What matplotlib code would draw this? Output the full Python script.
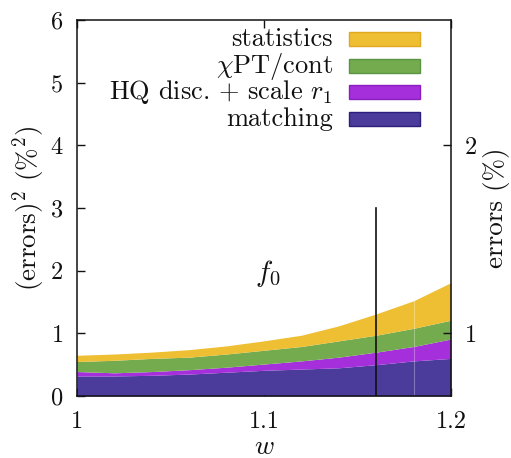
import matplotlib
matplotlib.use("Agg")
import matplotlib.pyplot as plt
from matplotlib.patches import Rectangle

plt.rcParams["font.family"] = ["cmr10", "DejaVu Serif"]
plt.rcParams["mathtext.fontset"] = "cm"
plt.rcParams["axes.formatter.use_mathtext"] = True

# Error budget of f_0 versus recoil w (squared errors, %^2), stacked bottom to top
w = [1.00, 1.02, 1.04, 1.06, 1.08, 1.10, 1.12, 1.14, 1.16, 1.18, 1.20]
matching = [0.32, 0.32, 0.33, 0.35, 0.38, 0.41, 0.43, 0.45, 0.50, 0.56, 0.60]
hq_scale = [0.07, 0.05, 0.06, 0.07, 0.08, 0.10, 0.13, 0.17, 0.20, 0.23, 0.31]
chipt_cont = [0.16, 0.20, 0.21, 0.20, 0.21, 0.22, 0.23, 0.26, 0.27, 0.29, 0.30]
statistics = [0.10, 0.10, 0.10, 0.12, 0.13, 0.15, 0.18, 0.24, 0.34, 0.44, 0.60]

labels = ["matching", r"HQ disc. + scale $r_1$", r"$\chi$PT/cont", "statistics"]
colors = ["#4b3b9b", "#a52fdb", "#74ab4e", "#eebf33"]
edges = ["#2a1f7a", "#8a1fc0", "#5a9440", "#e0a820"]

x_ticks = [1.0, 1.1, 1.2]
x_tick_labels = ["1", "1.1", "1.2"]
y_ticks = [0, 1, 2, 3, 4, 5, 6]
right_ticks = [1, 4]          # sqrt scale: errors of 1% and 2%
right_tick_labels = ["1", "2"]
w_cut = 1.16                  # vertical marker
w_cut_height = 3.0

INK = "#111111"
TICK_FS = 17.5
LABEL_FS = 19.5
KEY_FS = 19

fig = plt.figure(figsize=(5.11, 4.58), dpi=100)
ax = fig.add_axes([0.1507, 0.1354, 0.7319, 0.8209])

series = [matching, hq_scale, chipt_cont, statistics]
base = [0.0] * len(w)
for vals, col in zip(series, colors):
    top = [b + v for b, v in zip(base, vals)]
    ax.fill_between(w, base, top, color=col, linewidth=0, zorder=2)
    base = top

# faint seam between plotted segments
seam_idx = w.index(1.18)
ax.plot([1.18, 1.18], [0, base[seam_idx]], color="white", lw=0.8, alpha=0.3, zorder=2.2)

ax.plot([w_cut, w_cut], [0, w_cut_height], color=INK, lw=1.2, zorder=3)

ax.set_xlim(1.0, 1.2)
ax.set_ylim(0, 6)
ax.set_xticks(x_ticks)
ax.set_xticklabels(x_tick_labels)
ax.set_yticks(y_ticks)
ax.tick_params(axis="both", direction="in", length=6, width=1.0, labelsize=TICK_FS,
               colors=INK, top=True, right=False)
ax.tick_params(axis="x", pad=11)
ax.tick_params(axis="y", pad=10)
for s in ax.spines.values():
    s.set_linewidth(1.1)
    s.set_color(INK)
    s.set_zorder(4)

ax.set_xlabel("$w$", fontsize=LABEL_FS, color=INK)
ax.xaxis.set_label_coords(0.5, -0.104)
ax.set_ylabel(r"(errors)$^2$ (%$^2$)", fontsize=LABEL_FS, labelpad=2, color=INK)

ax2 = ax.twinx()
ax2.set_ylim(0, 6)
ax2.set_yticks(right_ticks)
ax2.set_yticklabels(right_tick_labels)
ax2.tick_params(axis="y", direction="in", length=6, width=1.0, labelsize=TICK_FS,
                colors=INK, pad=10)
for s in ax2.spines.values():
    s.set_visible(False)
ax2.set_ylabel("errors (%)", fontsize=LABEL_FS, labelpad=4, color=INK)

ax.text(1.102, 1.96, "$f_0$", fontsize=21, ha="center", va="center", color=INK)

# key: right-aligned labels with colour swatches, top entry first
key_x0, key_w, key_h = 0.727, 0.190, 0.037
key_text_x = 0.684
key_bottoms = [0.718, 0.790, 0.859, 0.931]
for lab, col, edge, yb in zip(labels, colors, edges, key_bottoms):
    ax.add_patch(Rectangle((key_x0, yb), key_w, key_h, transform=ax.transAxes,
                           facecolor=col, edgecolor=edge, linewidth=1.0,
                           clip_on=False, zorder=5))
    ax.text(key_text_x, yb, lab, transform=ax.transAxes, ha="right", va="baseline",
            fontsize=KEY_FS, color=INK, zorder=5)

fig.savefig("out.png", dpi=100)
